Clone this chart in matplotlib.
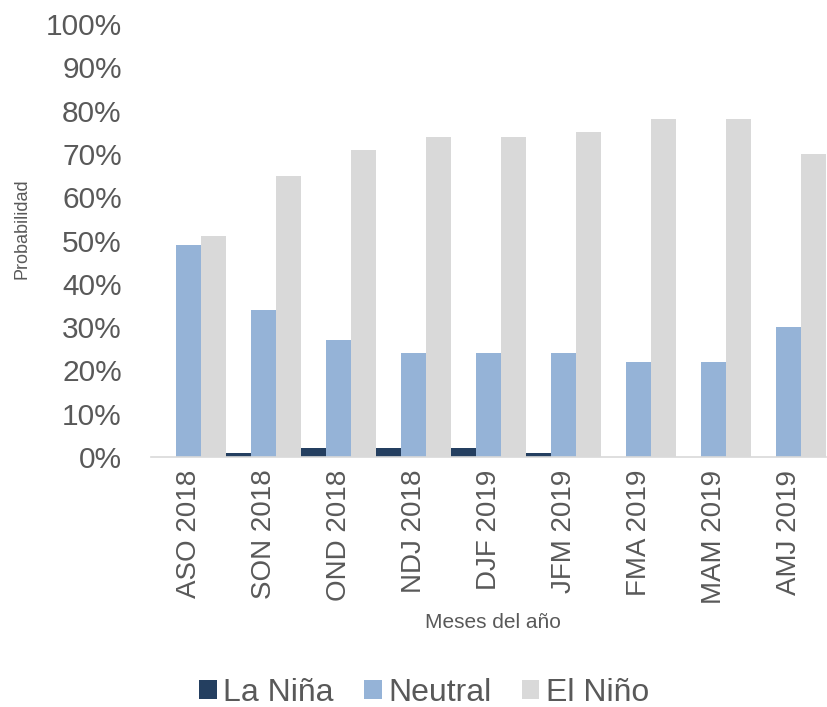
import numpy as np
import matplotlib.pyplot as plt

plt.rcParams['font.family'] = ['Liberation Sans', 'DejaVu Sans']

meses = ['ASO 2018', 'SON 2018', 'OND 2018', 'NDJ 2018', 'DJF 2019',
         'JFM 2019', 'FMA 2019', 'MAM 2019', 'AMJ 2019']
la_nina = [0, 1, 2, 2, 2, 1, 0, 0, 0]
neutral = [49, 34, 27, 24, 24, 24, 22, 22, 30]
el_nino = [51, 65, 71, 74, 74, 75, 78, 78, 70]

fig = plt.figure(figsize=(8.27, 7.07), dpi=100)
ax = fig.add_axes([0.1826, 0.3536, 0.8164, 0.6124])

x = np.arange(len(meses))
w = 1 / 3
ax.bar(x - w, la_nina, w, color='#243f60', label='La Niña')
ax.bar(x, neutral, w, color='#95b3d7', label='Neutral')
ax.bar(x + w, el_nino, w, color='#d9d9d9', label='El Niño')

ax.set_xlim(-0.5, len(meses) - 0.5)
ax.set_ylim(0, 100)
ax.set_yticks(range(0, 101, 10))
ax.set_yticklabels([f'{v}%' for v in range(0, 101, 10)], fontsize=21.5, color='#595959')
ax.set_xticks(x)
ax.set_xticklabels(meses, rotation=90, fontsize=20, color='#595959')
ax.tick_params(length=0)
ax.tick_params(axis='y', pad=21)
ax.tick_params(axis='x', pad=9)

for s in ['top', 'right', 'left']:
    ax.spines[s].set_visible(False)
ax.spines['bottom'].set_color('#d9d9d9')
ax.spines['bottom'].set_linewidth(1.2)

fig.text(0.027, 0.677, 'Probabilidad', rotation=90, ha='center', va='center',
         fontsize=13, color='#595959')
fig.text(0.596, 0.119, 'Meses del año', ha='center', va='center',
         fontsize=15, color='#595959')

fig.legend(loc='center', bbox_to_anchor=(0.513, 0.02), ncol=3, frameon=False,
           fontsize=23, labelcolor='#595959', handlelength=0.55, handleheight=0.55,
           handletextpad=0.2, columnspacing=0.95)

fig.savefig('out.png', dpi=100)
